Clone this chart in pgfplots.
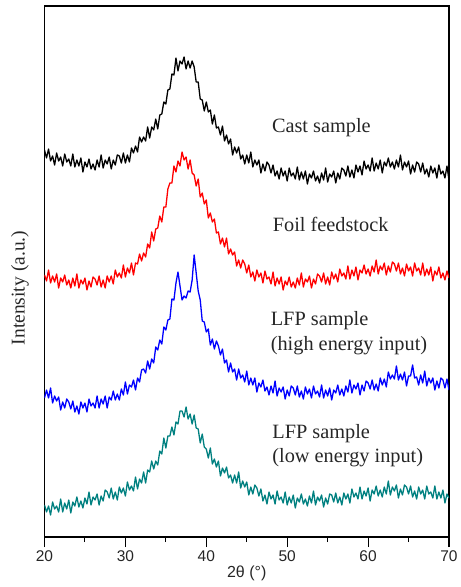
\documentclass[border=0pt]{standalone}
\usepackage{fontspec}
\setmainfont{Liberation Serif}
\setsansfont{Liberation Sans}
\usepackage{pgfplots}
\pgfplotsset{compat=1.18}
\definecolor{xteal}{RGB}{0,128,128}

\begin{document}
\begin{tikzpicture}
\begin{axis}[
  name=ax,
  scale only axis,
  width=404.5bp, height=531bp,
  xmin=20, xmax=70, ymin=0, ymax=531,
  xtick={20,30,40,50,60,70},
  minor xtick={25,35,45,55,65},
  ytick=\empty,
  xtick pos=left,
  tick align=outside,
  major tick length=10bp,
  minor tick length=5bp,
  every tick/.style={black, line width=1.1pt},
  axis line style={line width=1.2pt},
  /pgf/number format/assume math mode=true,
  xticklabel style={font=\sffamily\fontsize{15.5bp}{17bp}\selectfont, color=black!85},
  xlabel={2θ (°)},
  xlabel style={font=\sffamily\fontsize{16bp}{18bp}\selectfont, color=black!85,
                at={(axis description cs:0.5,-0.068)}, anchor=center},
  ylabel={Intensity (a.u.)},
  ylabel style={font=\fontsize{19.5bp}{21bp}\selectfont, color=black!85,
                at={(axis description cs:-0.0606,0.469)}, anchor=center},
  every axis plot/.append style={line width=1.3pt, line join=round},
]
% Cast sample
\addplot[black] coordinates {
(20,387)(20.25,379)(20.5,388)(20.75,376)(21,381)(21.25,372)(21.5,384)(21.75,376)
(22,380)(22.25,371)(22.5,383)(22.75,375)(23,378)(23.25,371)(23.5,383)(23.75,370)
(24,377)(24.25,371)(24.5,379)(24.75,365)(25,375)(25.25,370)(25.5,378)(25.75,368)
(26,373)(26.25,367)(26.5,377)(26.75,370)(27,382)(27.25,369)(27.5,377)(27.75,373)
(28,380)(28.25,368)(28.5,377)(28.75,372)(29,382)(29.25,381)(29.5,374)(29.75,384)
(30,374)(30.25,382)(30.5,375)(30.75,389)(31,384)(31.25,391)(31.5,385)(31.75,400)
(32,395)(32.25,400)(32.5,396)(32.75,410)(33,399)(33.25,410)(33.5,407)(33.75,418)
(34,408)(34.25,422)(34.5,423)(34.75,435)(35,433)(35.25,447)(35.5,448)(35.75,463)
(36,462)(36.25,479)(36.5,466)(36.75,476)(37,473)(37.25,480)(37.5,468)(37.75,476)
(38,469)(38.25,476)(38.5,470)(38.75,455)(39,455)(39.25,438)(39.5,437)(39.75,426)
(40,435)(40.25,425)(40.5,427)(40.75,413)(41,422)(41.25,409)(41.5,410)(41.75,402)
(42,411)(42.25,396)(42.5,402)(42.75,393)(43,398)(43.25,382)(43.5,390)(43.75,384)
(44,390)(44.25,378)(44.5,382)(44.75,373)(45,382)(45.25,374)(45.5,385)(45.75,370)
(46,377)(46.25,372)(46.5,377)(46.75,364)(47,373)(47.25,366)(47.5,375)(47.75,372)
(48,364)(48.25,372)(48.5,361)(48.75,366)(49,358)(49.25,369)(49.5,361)(49.75,366)
(50,356)(50.25,369)(50.5,361)(50.75,364)(51,358)(51.25,370)(51.5,357)(51.75,365)
(52,358)(52.25,366)(52.5,353)(52.75,363)(53,359)(53.25,366)(53.5,356)(53.75,361)
(54,354)(54.25,364)(54.5,357)(54.75,369)(55,355)(55.25,363)(55.5,360)(55.75,366)
(56,354)(56.25,364)(56.5,358)(56.75,369)(57,367)(57.25,361)(57.5,371)(57.75,360)
(58,367)(58.25,359)(58.5,372)(58.75,365)(59,371)(59.25,362)(59.5,376)(59.75,368)
(60,372)(60.25,366)(60.5,379)(60.75,366)(61,374)(61.25,368)(61.5,377)(61.75,364)
(62,375)(62.25,371)(62.5,379)(62.75,370)(63,375)(63.25,368)(63.5,377)(63.75,370)
(64,382)(64.25,367)(64.5,375)(64.75,370)(65,376)(65.25,363)(65.5,372)(65.75,365)
(66,375)(66.25,373)(66.5,365)(66.75,374)(67,363)(67.25,368)(67.5,360)(67.75,371)
(68,364)(68.25,369)(68.5,359)(68.75,372)(69,363)(69.25,366)(69.5,359)(69.75,371)
(70,357)};
% Foil feedstock
\addplot[red] coordinates {
(20,262)(20.25,256)(20.5,267)(20.75,254)(21,261)(21.25,255)(21.5,263)(21.75,249)
(22,259)(22.25,255)(22.5,262)(22.75,252)(23,257)(23.25,249)(23.5,259)(23.75,251)
(24,263)(24.25,249)(24.5,257)(24.75,253)(25,259)(25.25,247)(25.5,256)(25.75,250)
(26,260)(26.25,258)(26.5,252)(26.75,261)(27,250)(27.25,257)(27.5,249)(27.75,261)
(28,255)(28.25,261)(28.5,253)(28.75,267)(29,260)(29.25,264)(29.5,259)(29.75,272)
(30,260)(30.25,269)(30.5,264)(30.75,274)(31,262)(31.25,274)(31.5,273)(31.75,283)
(32,276)(32.25,284)(32.5,280)(32.75,293)(33,289)(33.25,305)(33.5,296)(33.75,308)
(34,309)(34.25,321)(34.5,315)(34.75,330)(35,330)(35.25,348)(35.5,354)(35.75,354)
(36,371)(36.25,365)(36.5,376)(36.75,371)(37,385)(37.25,377)(37.5,380)(37.75,368)
(38,377)(38.25,364)(38.5,362)(38.75,351)(39,358)(39.25,340)(39.5,344)(39.75,333)
(40,337)(40.25,319)(40.5,324)(40.75,315)(41,318)(41.25,304)(41.5,305)(41.75,293)
(42,299)(42.25,290)(42.5,299)(42.75,283)(43,288)(43.25,282)(43.5,285)(43.75,271)
(44,277)(44.25,269)(44.5,277)(44.75,273)(45,264)(45.25,272)(45.5,260)(45.75,265)
(46,256)(46.25,267)(46.5,260)(46.75,264)(47,254)(47.25,266)(47.5,258)(47.75,260)
(48,253)(48.25,265)(48.5,251)(48.75,259)(49,253)(49.25,260)(49.5,247)(49.75,256)
(50,252)(50.25,260)(50.5,250)(50.75,255)(51,249)(51.25,259)(51.5,252)(51.75,264)
(52,250)(52.25,258)(52.5,255)(52.75,261)(53,249)(53.25,258)(53.5,253)(53.75,263)
(54,261)(54.25,255)(54.5,264)(54.75,253)(55,260)(55.25,252)(55.5,265)(55.75,258)
(56,263)(56.25,255)(56.5,268)(56.75,261)(57,264)(57.25,258)(57.5,271)(57.75,258)
(58,267)(58.25,261)(58.5,270)(58.75,257)(59,267)(59.25,264)(59.5,272)(59.75,263)
(60,268)(60.25,261)(60.5,271)(60.75,265)(61,277)(61.25,263)(61.5,271)(61.75,267)
(62,274)(62.25,262)(62.5,271)(62.75,265)(63,275)(63.25,273)(63.5,266)(63.75,274)
(64,263)(64.25,269)(64.5,261)(64.75,273)(65,266)(65.25,270)(65.5,261)(65.75,274)
(66,266)(66.25,269)(66.5,262)(66.75,274)(67,261)(67.25,268)(67.5,262)(67.75,270)
(68,256)(68.25,266)(68.5,262)(68.75,270)(69,259)(69.25,264)(69.5,257)(69.75,266)
(70,259)};
% LFP sample, high energy input
\addplot[blue] coordinates {
(20,139)(20.25,147)(20.5,139)(20.75,149)(21,134)(21.25,141)(21.5,136)(21.75,140)
(22,127)(22.25,135)(22.5,129)(22.75,138)(23,135)(23.25,128)(23.5,136)(23.75,125)
(24,131)(24.25,123)(24.5,135)(24.75,129)(25,134)(25.25,125)(25.5,138)(25.75,131)
(26,134)(26.25,129)(26.5,141)(26.75,129)(27,138)(27.25,133)(27.5,141)(27.75,129)
(28,140)(28.25,137)(28.5,146)(28.75,137)(29,143)(29.25,137)(29.5,148)(29.75,142)
(30,155)(30.25,143)(30.5,152)(30.75,150)(31,157)(31.25,147)(31.5,159)(31.75,155)
(32,167)(32.25,168)(32.5,164)(32.75,176)(33,168)(33.25,178)(33.5,174)(33.75,190)
(34,187)(34.25,197)(34.5,193)(34.75,210)(35,207)(35.25,217)(35.5,218)(35.75,238)
(36,237)(36.25,254)(36.5,265)(36.75,251)(37,237)(37.25,241)(37.5,239)(37.75,246)
(38,245)(38.25,257)(38.5,282)(38.75,264)(39,246)(39.25,237)(39.5,216)(39.75,215)
(40,205)(40.25,208)(40.5,192)(40.75,198)(41,188)(41.25,196)(41.5,191)(41.75,182)
(42,188)(42.25,174)(42.5,177)(42.75,165)(43,174)(43.25,165)(43.5,168)(43.75,157)
(44,168)(44.25,159)(44.5,162)(44.75,155)(45,166)(45.25,152)(45.5,159)(45.75,152)
(46,159)(46.25,145)(46.5,154)(46.75,150)(47,157)(47.25,146)(47.5,150)(47.75,142)
(48,151)(48.25,144)(48.5,156)(48.75,141)(49,149)(49.25,145)(49.5,150)(49.75,138)
(50,147)(50.25,141)(50.5,151)(50.75,149)(51,142)(51.25,151)(51.5,140)(51.75,146)
(52,138)(52.25,150)(52.5,143)(52.75,148)(53,139)(53.25,151)(53.5,143)(53.75,146)
(54,140)(54.25,152)(54.5,139)(54.75,147)(55,141)(55.25,149)(55.5,137)(55.75,147)
(56,144)(56.25,152)(56.5,142)(56.75,148)(57,141)(57.25,151)(57.5,145)(57.75,157)
(58,144)(58.25,152)(58.5,148)(58.75,154)(59,142)(59.25,152)(59.5,146)(59.75,156)
(60,154)(60.25,148)(60.5,157)(60.75,147)(61,153)(61.25,146)(61.5,159)(61.75,152)
(62,158)(62.25,150)(62.5,165)(62.75,158)(63,162)(63.25,158)(63.5,171)(63.75,157)
(64,163)(64.25,157)(64.5,165)(64.75,151)(65,161)(65.25,161)(65.5,172)(65.75,159)
(66,160)(66.25,152)(66.5,162)(66.75,154)(67,166)(67.25,151)(67.5,159)(67.75,154)
(68,159)(68.25,147)(68.5,156)(68.75,149)(69,159)(69.25,157)(69.5,149)(69.75,158)
(70,147)};
% LFP sample, low energy input
\addplot[xteal] coordinates {
(20,32)(20.25,25)(20.5,31)(20.75,22)(21,35)(21.25,28)(21.5,31)(21.75,25)
(22,38)(22.25,25)(22.5,34)(22.75,28)(23,37)(23.25,24)(23.5,35)(23.75,31)
(24,40)(24.25,30)(24.5,36)(24.75,29)(25,39)(25.25,33)(25.5,45)(25.75,32)
(26,40)(26.25,37)(26.5,43)(26.75,32)(27,41)(27.25,36)(27.5,47)(27.75,45)
(28,39)(28.25,49)(28.5,38)(28.75,45)(29,37)(29.25,50)(29.5,44)(29.75,49)
(30,41)(30.25,55)(30.5,47)(30.75,51)(31,46)(31.25,60)(31.5,48)(31.75,58)
(32,54)(32.25,65)(32.5,54)(32.75,67)(33,65)(33.25,76)(33.5,68)(33.75,76)
(34,72)(34.25,86)(34.5,83)(34.75,99)(35,89)(35.25,101)(35.5,101)(35.75,110)
(36,102)(36.25,115)(36.5,113)(36.75,126)(37,126)(37.25,120)(37.5,130)(37.75,118)
(38,123)(38.25,113)(38.5,122)(38.75,109)(39,108)(39.25,94)(39.5,103)(39.75,90)
(40,88)(40.25,79)(40.5,89)(40.75,73)(41,78)(41.25,70)(41.5,76)(41.75,61)
(42,69)(42.25,64)(42.5,70)(42.75,59)(43,62)(43.25,54)(43.5,62)(43.75,54)
(44,65)(44.25,49)(44.5,56)(44.75,50)(45,55)(45.25,42)(45.5,50)(45.75,43)
(46,52)(46.25,49)(46.5,41)(46.75,48)(47,36)(47.25,42)(47.5,33)(47.75,45)
(48,38)(48.25,42)(48.5,33)(48.75,46)(49,37)(49.25,40)(49.5,34)(49.75,45)
(50,32)(50.25,40)(50.5,34)(50.75,42)(51,29)(51.25,39)(51.5,35)(51.75,43)
(52,33)(52.25,38)(52.5,31)(52.75,41)(53,34)(53.25,46)(53.5,32)(53.75,40)
(54,36)(54.25,42)(54.5,30)(54.75,39)(55,33)(55.25,43)(55.5,42)(55.75,35)
(56,44)(56.25,34)(56.5,40)(56.75,32)(57,44)(57.25,38)(57.5,43)(57.75,34)
(58,48)(58.25,40)(58.5,44)(58.75,38)(59,50)(59.25,38)(59.5,46)(59.75,41)
(60,49)(60.25,36)(60.5,47)(60.75,43)(61,51)(61.25,41)(61.5,47)(61.75,40)
(62,50)(62.25,43)(62.5,56)(62.75,42)(63,50)(63.25,46)(63.5,52)(63.75,39)
(64,48)(64.25,42)(64.5,52)(64.75,50)(65,43)(65.25,51)(65.5,40)(65.75,46)
(66,38)(66.25,50)(66.5,43)(66.75,47)(67,38)(67.25,51)(67.5,43)(67.75,45)
(68,39)(68.25,51)(68.5,38)(68.75,45)(69,39)(69.25,47)(69.5,34)(69.75,43)
(70,39)};

\begin{scope}[every node/.style={anchor=west, align=left, inner sep=0pt,
    font=\fontsize{20.3bp}{24.5bp}\selectfont, text=black!85}]
\node at (axis cs:48.1,409) {Cast sample};
\node at (axis cs:48.2,313) {Foil feedstock};
\node at (axis cs:47.95,204) {LFP sample\\(high energy input)};
\node at (axis cs:48.15,91.5) {LFP sample\\(low energy input)};
\end{scope}
\end{axis}
\path ([shift={(-44.5bp,-50bp)}]ax.south west) rectangle ([shift={(8bp,6bp)}]ax.north east);
\end{tikzpicture}
\end{document}
